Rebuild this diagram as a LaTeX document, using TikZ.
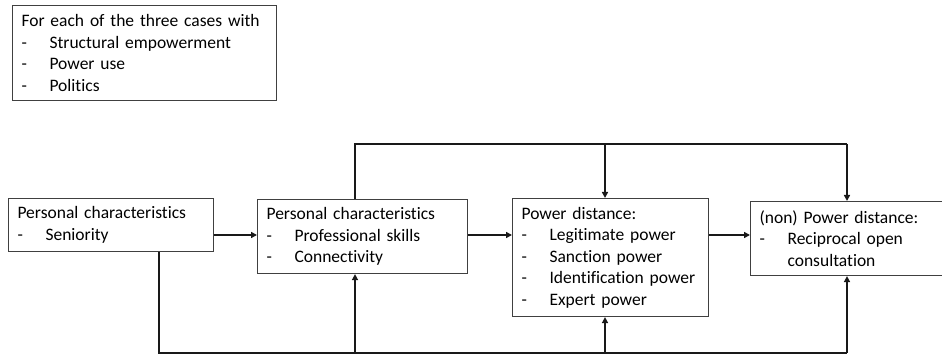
\documentclass[tikz,border=0pt]{standalone}
\usepackage{fontspec}
\setmainfont{Carlito}[Ligatures=NoCommon]
\usetikzlibrary{arrows.meta}
\newcommand\dashitem{\makebox[28pt][l]{-}}
\begin{document}
\begin{tikzpicture}[x=1pt,y=-1pt,
 box/.style={draw=black!75, line width=1.1pt, anchor=north west, align=left,
   inner xsep=9pt, inner ysep=0pt, font=\fontsize{17.5}{21.5}\selectfont},
 conn/.style={line width=1.5pt, draw=black!90},
 arr/.style={conn, -{Triangle[length=6pt,width=6pt]}}]
\useasboundingbox (0,0) rectangle (942,355);
\node[box, text width=246pt, minimum height=95pt] (cases) at (12,5)
  {For each of the three cases with\\\dashitem Structural empowerment\\\dashitem Power use\\\dashitem Politics};
\node[box, text width=187pt, minimum height=53pt] (A) at (8,198)
  {Personal characteristics\\\dashitem Seniority};
\node[box, text width=192pt, minimum height=74pt] (B) at (257,199)
  {Personal characteristics\\\dashitem Professional skills\\\dashitem Connectivity};
\node[box, text width=178pt, minimum height=118pt] (C) at (512,198)
  {Power distance:\\\dashitem Legitimate power\\\dashitem Sanction power\\\dashitem Identification power\\\dashitem Expert power};
\node[box, text width=192pt, minimum height=74pt] (D) at (750,201)
  {(non) Power distance:\\\dashitem Reciprocal open\\\hspace*{28pt}consultation};
\coordinate (top1) at (355,144);
\coordinate (top2) at (605,144);
\coordinate (top3) at (847,144);
\coordinate (bot0) at (159,353);
\coordinate (bot1) at (355,353);
\coordinate (bot2) at (605,353);
\coordinate (bot3) at (847,353);
\coordinate (h) at (0,235);
\draw[conn] (B.north -| top1) -- (top1) -- (top3);
\draw[arr] (top2) -- (C.north -| top2);
\draw[arr] (top3) -- (D.north -| top3);
\draw[conn] (A.south -| bot0) -- (bot0) -- (bot3);
\draw[arr] (bot1) -- (B.south -| bot1);
\draw[arr] (bot2) -- (C.south -| bot2);
\draw[arr] (bot3) -- (D.south -| bot3);
\draw[arr] (A.east |- h) -- (B.west |- h);
\draw[arr] (B.east |- h) -- (C.west |- h);
\draw[arr] (C.east |- h) -- (D.west |- h);
\end{tikzpicture}
\end{document}
